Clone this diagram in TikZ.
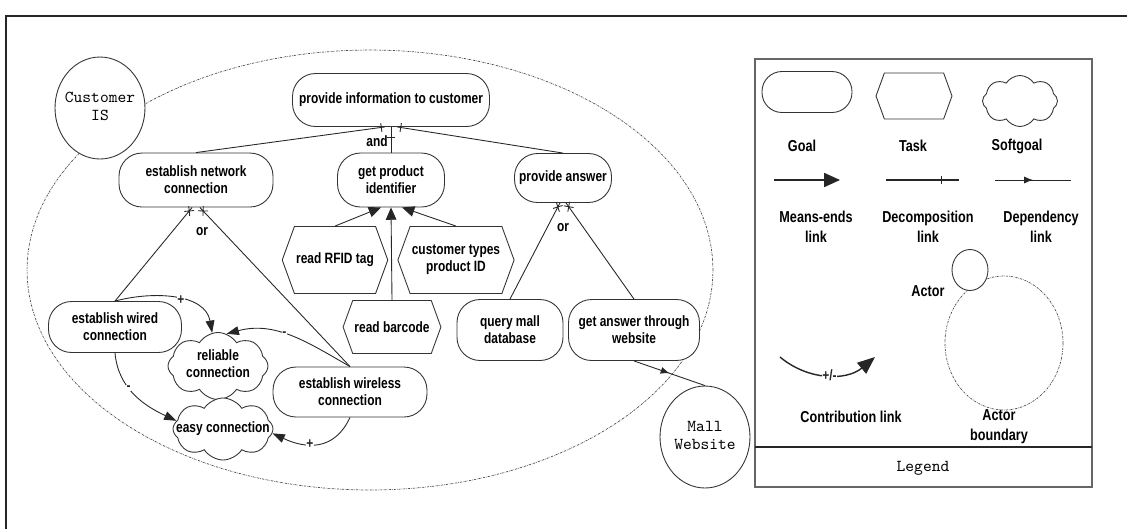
\documentclass[tikz,border=0pt]{standalone}
\usepackage{fontspec}
\usepackage{tikz}
\usetikzlibrary{shapes.misc, shapes.geometric, shapes.symbols, arrows.meta, decorations.markings}

\newfontfamily\narrowsans[FakeStretch=0.8]{Liberation Sans}
\newcommand{\istarfont}{\narrowsans\bfseries\fontsize{8.5}{9.6}\selectfont}
\newcommand{\legendfont}{\narrowsans\bfseries\fontsize{9}{11.3}\selectfont}
\newcommand{\actorfont}{\ttfamily\fontsize{9.5}{9.8}\selectfont}
\newcommand{\sgtext}[1]{\makebox[0pt]{\begin{tabular}{@{}c@{}}#1\end{tabular}}}

\tikzset{
  goal/.style={rectangle, rounded corners=4.6mm, draw=black!80, line width=0.5pt, fill=white, align=center, inner sep=1pt, font=\istarfont},
  task/.style={signal, signal to=east and west, signal pointer angle=140, draw=black!80, line width=0.5pt, fill=white, align=center, inner sep=1pt, font=\istarfont},
  softgoal/.style={cloud, cloud puffs=8, cloud puff arc=115, cloud ignores aspect, draw=black!80, line width=0.5pt, fill=white, inner sep=0pt, font=\istarfont},
  actor/.style={ellipse, draw=black!80, line width=0.5pt, fill=white, inner sep=0pt, minimum width=1.8cm, minimum height=2.04cm, font=\actorfont},
  boundary/.style={black!70, line width=0.4pt, dash pattern=on 1.2pt off 0.6pt on 0.3pt off 0.6pt},
  link/.style={black!85, line width=0.5pt},
  meansend/.style={link, -{Triangle[length=7pt,width=6pt]}},
  contrib/.style={link, -{Triangle[length=7pt,width=5pt]}},
  sign/.style={fill=white, inner sep=0.4pt, font=\istarfont},
  decomp/.style={link, postaction={decorate}, decoration={markings, mark=at position -#1 with {\draw[link] (0,-2.5pt) -- (0,2.5pt);}}},
  orlink/.style={link, postaction={decorate}, decoration={markings, mark=at position -2.5pt with {\draw[link] (-2pt,-2pt) -- (2pt,2pt) (-2pt,2pt) -- (2pt,-2pt);}}},
  depend/.style={link, postaction={decorate}, decoration={markings, mark=at position 0.5 with {\arrow{Latex[length=5pt,width=4pt]}}}},
  lbl/.style={font=\legendfont, align=center}
}

\begin{document}
\begin{tikzpicture}[x=0.02cm, y=-0.02cm]
  \useasboundingbox (0,0) rectangle (1127,529);
  % Frame
  \draw[line width=1.6pt, black!85] (6,529) -- (6,16) -- (1127,16);

  % Boundary and actors
  \draw[boundary] (370,270) ellipse [x radius=6.86cm, y radius=4.4cm];
  \node[actor] (cis) at (100,108) {\sgtext{Customer\\IS}};
  \node[actor] (mw) at (705,437) {\sgtext{Mall\\Website}};

  % Goals
  \node[goal, minimum width=3.94cm, minimum height=1.06cm] (pic) at (391,100) {provide information to customer};
  \node[goal, minimum width=3.08cm, minimum height=1.08cm] (enc) at (196,180) {establish network\\connection};
  \node[goal, minimum width=2.14cm, minimum height=1.08cm] (gpi) at (391,180) {get product\\identifier};
  \node[goal, minimum width=1.94cm, minimum height=0.98cm] (pa) at (563,178) {provide answer};
  \node[goal, minimum width=2.66cm, minimum height=1.02cm] (ewc) at (115,327) {establish wired\\connection};
  \node[goal, minimum width=3.08cm, minimum height=1.0cm] (ewl) at (350,392) {establish wireless\\connection};
  \node[goal, minimum width=2.12cm, minimum height=1.22cm] (qmd) at (510,330) {query mall\\database};
  \node[goal, minimum width=2.62cm, minimum height=1.22cm] (gat) at (634,330) {get answer through\\website};

  % Tasks
  \node[task, minimum width=2.0cm, minimum height=1.34cm] (rfid) at (335,260) {read RFID tag};
  \node[task, minimum width=2.14cm, minimum height=1.34cm] (ctp) at (456,260) {customer types\\product ID};
  \node[task, minimum width=1.82cm, minimum height=1.06cm] (rbc) at (392,327) {read barcode};

  % Softgoals
  \node[softgoal, minimum width=2.0cm, minimum height=1.34cm] (rel) at (218,366) {\sgtext{reliable\\connection}};
  \node[softgoal, minimum width=2.0cm, minimum height=1.24cm] (easy) at (223,429) {\sgtext{easy connection}};

  % AND decomposition
  \draw[decomp=2pt] (enc.north) -- (pic.257);
  \draw[decomp=6pt] (gpi.north) -- (pic.south);
  \draw[decomp=2pt] (pa.north) -- (pic.283);
  \node[font=\istarfont] (andlbl) at (377,141) {and};

  % OR decomposition
  \draw[orlink] (ewc.north) -- (enc.262);
  \draw[orlink] (ewl.north) -- (enc.278);
  \node[font=\istarfont] (orenc) at (202,232) {or};
  \draw[orlink] (qmd.north) -- (pa.263);
  \draw[orlink] (gat.north) -- (pa.277);
  \node[font=\istarfont] (orpa) at (563,228) {or};

  % Means-ends
  \draw[meansend] (rfid.north) -- (gpi.250);
  \draw[meansend] (rbc.north) -- (gpi.south);
  \draw[meansend] (ctp.north) -- (gpi.292);

  % Contributions
  \draw[contrib] (ewc.north) to[out=15, in=100] node[sign, pos=0.55] (c1) {+} (rel.100);
  \draw[contrib] (ewl.north) to[out=150, in=15] node[sign, pos=0.55] (c2) {-} (rel.75);
  \draw[contrib] (ewc.south) to[out=-85, in=155] node[sign, pos=0.4] (c3) {-} (easy.170);
  \draw[contrib] (ewl.south) to[out=-115, in=-25, looseness=1.2] node[sign, pos=0.6] (c4) {+} (easy.-5);

  % Dependency
  \draw[depend] (gat.south) -- (mw.north);

  % Legend
  \draw[black!60, line width=0.6pt] (755,59) rectangle (1092,487);
  \draw[black!85, line width=0.6pt] (755,447) -- (1092,447);
  \node[font=\ttfamily\fontsize{9.5}{11}\selectfont] (legendtitle) at (923,468) {Legend};

  \node[goal, rounded corners=4mm, minimum width=1.8cm, minimum height=0.82cm] (lgoal) at (807,92) {};
  \node[task, minimum width=1.52cm, minimum height=0.92cm] (ltask) at (914,96) {};
  \node[softgoal, minimum width=1.5cm, minimum height=1.02cm] (lsoft) at (1020,101) {};
  \node[lbl] (goallbl) at (802,146) {Goal};
  \node[lbl] (tasklbl) at (913,146) {Task};
  \node[lbl] (softlbl) at (1017,146) {Softgoal};

  \coordinate (me1) at (774,180);
  \coordinate (me2) at (840,180);
  \draw[link, line width=0.8pt, -{Triangle[length=9pt,width=8pt]}] (me1) -- (me2);
  \coordinate (dc1) at (886,180);
  \coordinate (dc2) at (959,180);
  \draw[decomp=10pt, line width=0.7pt] (dc1) -- (dc2);
  \coordinate (dp1) at (995,180);
  \coordinate (dp2) at (1071,180);
  \draw[depend] (dp1) -- (dp2);
  \node[lbl] (melbl) at (816,227) {Means-ends\\link};
  \node[lbl] (dclbl) at (928,227) {Decomposition\\link};
  \node[lbl] (dplbl) at (1041,227) {Dependency\\link};

  \draw[boundary] (1004,343) ellipse [x radius=1.18cm, y radius=1.34cm];
  \node[actor, minimum width=0.72cm, minimum height=0.82cm] (lactor) at (970,270) {};
  \node[lbl] (actorlbl) at (928,291) {Actor};
  \node[lbl] (bndlbl) at (999,427) {Actor\\boundary};

  \coordinate (cb1) at (780,357);
  \coordinate (cb2) at (875,357);
  \draw[link, line width=0.8pt, -{Triangle[length=10pt,width=8pt]}] (cb1) to[out=-40, in=220] node[sign, pos=0.52] (cbsign) {+/-} (cb2);
  \node[lbl] (cblbl) at (851,417) {Contribution link};
\end{tikzpicture}
\end{document}
